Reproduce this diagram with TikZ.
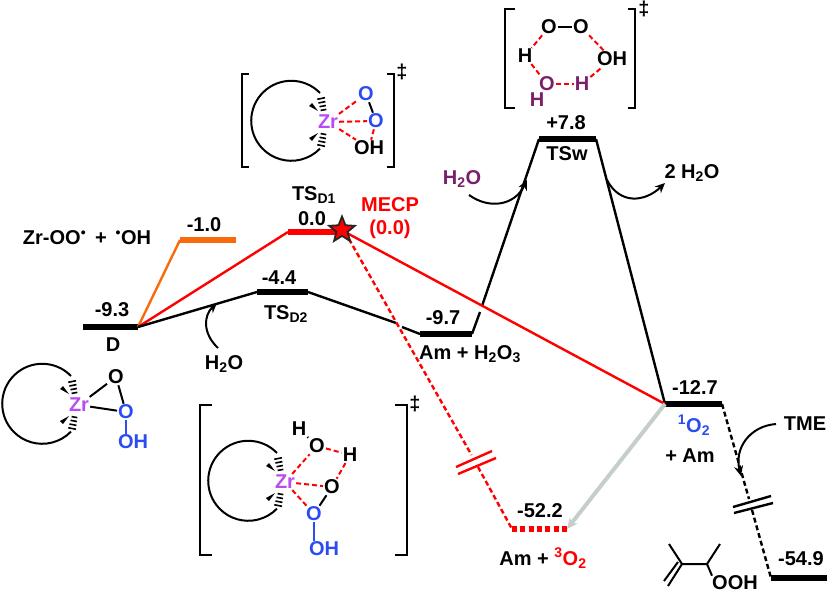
\documentclass[tikz,border=0pt]{standalone}
\usepackage{fontspec}
\setmainfont{Liberation Sans}
\usetikzlibrary{shapes.geometric,arrows.meta}

\definecolor{zrpurple}{HTML}{B84CF0}
\definecolor{oblue}{HTML}{2B4CF0}
\definecolor{wplum}{HTML}{7A1F6A}
\definecolor{orangeline}{HTML}{F96A0A}
\definecolor{grayline}{HTML}{C6CECC}

\tikzset{
  lab/.style={font=\bfseries\fontsize{20}{22}\selectfont, inner sep=0pt},
  atom/.style={font=\bfseries\fontsize{20}{22}\selectfont, inner sep=1pt},
  level/.style={line width=5.5pt},
  path/.style={line width=2.4pt},
  bond/.style={line width=2pt},
  hbond/.style={red, line width=2pt, dash pattern=on 5pt off 3pt},
  bracket/.style={line width=2pt},
  curved/.style={-{Stealth[length=10pt,width=9pt]}, line width=2pt},
  zrcore/.pic={
    \draw[line width=2pt] (-8,-29) arc[start angle=44, end angle=316, radius=40pt];
    \foreach \s in {1,-1} {
      \fill ({-19},{\s*(-16)}) -- ({-16},{\s*(-19)}) -- ({-10},{\s*(-11)}) -- cycle;
      \foreach \k in {0,...,3}
        \draw[line width=1.6pt] ({-10.7+1.1*\k},{\s*(-22.7+3.7*\k)}) -- ({-3+0.45*\k},{\s*(-24.3+3.9*\k)});
    }
  }
}

\begin{document}
\begin{tikzpicture}[x=1pt, y=-1pt, >=stealth]
  \useasboundingbox (0,0) rectangle (827,594);

  % levels
  \coordinate (dL) at (83,327);    \coordinate (dR) at (138,327);
  \coordinate (radL) at (180,240); \coordinate (radR) at (236,240);
  \coordinate (dOneL) at (288,232);\coordinate (dOneR) at (345,232);
  \coordinate (dTwoL) at (257,292);\coordinate (dTwoR) at (308,292);
  \coordinate (amL) at (420,334);  \coordinate (amR) at (472,334);
  \coordinate (wL) at (539,139);   \coordinate (wR) at (596,139);
  \coordinate (sgL) at (665,404);  \coordinate (sgR) at (722,404);
  \coordinate (trL) at (512,529);  \coordinate (trR) at (567,529);
  \coordinate (endL) at (771,578); \coordinate (endR) at (827,578);

  \draw[level] (dL) -- (dR);
  \draw[level, orangeline] (radL) -- (radR);
  \draw[level, red] (dOneL) -- (dOneR);
  \draw[level] (dTwoL) -- (dTwoR);
  \draw[level] (amL) -- (amR);
  \draw[level] (wL) -- (wR);
  \draw[level] (sgL) -- (sgR);
  \draw[red, line width=6pt, dash pattern=on 5pt off 3.3pt] (trL) -- (trR);
  \draw[level] (endL) -- (endR);

  % gaps and breaks
  \coordinate (gapA) at (396,323); \coordinate (gapB) at (402,327);
  \coordinate (gapC) at (480,312); \coordinate (gapD) at (482,306);
  \coordinate (cutA) at (471.5,455); \coordinate (cutB) at (478,467);
  \coordinate (cutC) at (749,499); \coordinate (cutD) at (752,510);

  % profile lines
  \draw[path, orangeline] (dR) -- (radL);
  \draw[path, red] (dR) -- (dOneL);
  \draw[path] (dR) -- (dTwoL);
  \draw[path] (dTwoR) -- (gapA);
  \draw[path] (gapB) -- (amL);
  \draw[path] (amR) -- (gapC);
  \draw[path] (gapD) -- (wL);
  \draw[path] (wR) -- (sgL);
  \draw[path, red] (dOneR) -- (sgL);
  \draw[path, red, dash pattern=on 5pt off 3pt] (dOneR) -- (cutA);
  \draw[path, red, dash pattern=on 5pt off 3pt] (cutB) -- (trL);
  \draw[path, dash pattern=on 5pt off 3pt] (sgR) -- (cutC);
  \draw[path, dash pattern=on 5pt off 3pt] (cutD) -- (endL);
  \draw[-{Stealth[length=11pt,width=10pt]}, grayline, line width=4pt] (sgL) -- (trR);

  \draw[path, red] (456,467) -- (492,451);
  \draw[path, red] (458,474) -- (496,458);
  \draw[path] (733,507) -- (771,496);
  \draw[path] (734,513) -- (773,503);

  \node[star, star points=5, star point ratio=2.3, minimum size=27pt, inner sep=0pt,
        draw=black!85, line width=1.8pt, fill=red] (mecp) at (342,230) {};

  % energies and names
  \node[lab] (eD) at (112,310) {-9.3};
  \node[lab] (nD) at (113,345) {D};
  \node[lab] (eRad) at (204,225) {-1.0};
  \node[lab] (nRad) at (87,238) {Zr-OO\textsuperscript{\textbullet}\, + \,\textsuperscript{\textbullet}OH};
  \node[lab] (nOne) at (314,195) {TS\textsubscript{D1}};
  \node[lab] (eOne) at (312,219) {0.0};
  \node[lab, red] (nMecp) at (390,205) {MECP};
  \node[lab, red] (eMecp) at (390,229) {(0.0)};
  \node[lab] (eTwo) at (279,278) {-4.4};
  \node[lab] (nTwo) at (286,314) {TS\textsubscript{D2}};
  \node[lab] (eAm) at (443,318) {-9.7};
  \node[lab] (nAm) at (470,354) {Am + H\textsubscript{2}O\textsubscript{3}};
  \node[lab] (eW) at (566,123) {+7.8};
  \node[lab] (nW) at (567,154) {TSw};
  \node[lab] (lossW) at (692,173) {2 H\textsubscript{2}O};
  \node[lab, wplum] (gainW) at (462,179) {H\textsubscript{2}O};
  \node[lab] (gainB) at (224,364) {H\textsubscript{2}O};
  \node[lab] (eSg) at (695,388) {-12.7};
  \node[lab, oblue] (nSg) at (694,425) {\textsuperscript{1}O\textsubscript{2}};
  \node[lab] (nSgAm) at (690,456) {+ Am};
  \node[lab] (tme) at (805,424) {TME};
  \node[lab] (eTr) at (540,511) {-52.2};
  \node[lab] (nTr) at (543,558) {Am + \textcolor{red}{\textsuperscript{3}O\textsubscript{2}}};
  \node[lab] (eEnd) at (801,559) {-54.9};

  % curved arrows
  \draw[curved] (469,195) .. controls (490,210) and (515,205) .. (527,180);
  \draw[curved] (607,180) .. controls (620,205) and (645,202) .. (665,183);
  \draw[curved] (218,348) .. controls (202,333) and (204,315) .. (217,303);
  \draw[curved] (776,424) .. controls (750,426) and (734,448) .. (741,476);

  % D
  \node[atom, zrpurple] (zrD) at (79,405) {Zr};
  \pic at (zrD) {zrcore};
  \node[atom] (oDa) at (116,377) {O};
  \node[atom, oblue] (oDb) at (126,412) {O};
  \node[atom, oblue] (ohD) at (133,442) {OH};
  \draw[bond] (zrD) -- (oDa);
  \draw[bond] (zrD) -- (oDb);
  \draw[bond] (oDa) -- (oDb);
  \draw[bond, oblue] (oDb) -- (oDb |- ohD.north);

  % TS D1
  \node[atom, zrpurple] (zrA) at (328,122) {Zr};
  \pic at (zrA) {zrcore};
  \node[atom, oblue] (oAa) at (366,94) {O};
  \node[atom, oblue] (oAb) at (376,121) {O};
  \node[atom] (ohA) at (369,148) {OH};
  \draw[hbond] (zrA) -- (oAa);
  \draw[hbond] (zrA) -- (oAb);
  \draw[hbond] (zrA) -- (ohA);
  \draw[bond] (oAa) -- (oAb);
  \draw[hbond] (oAb) -- (ohA);
  \draw[bracket] (249,74) -- (242,74) -- (242,167) -- (249,167);
  \draw[bracket] (387,74) -- (394,74) -- (394,167) -- (387,167);
  \node[lab] (dagA) at (402,72) {‡};

  % TS D2
  \node[atom, zrpurple] (zrB) at (285,482) {Zr};
  \pic at (zrB) {zrcore};
  \node[atom] (hBa) at (299,429) {H};
  \node[atom] (oBa) at (317,446) {O};
  \node[atom] (hBb) at (350,455) {H};
  \node[atom] (oBb) at (332,487) {O};
  \node[atom, oblue] (oBc) at (314,514) {O};
  \node[atom, oblue] (ohB) at (324,549) {OH};
  \draw[bond] (hBa) -- (oBa);
  \draw[hbond] (zrB) -- (oBa);
  \draw[hbond] (oBa) -- (hBb);
  \draw[hbond] (hBb) -- (oBb);
  \draw[hbond] (zrB) -- (oBb);
  \draw[hbond] (zrB) -- (oBc);
  \draw[bond] (oBb) -- (oBc);
  \draw[bond, oblue] (oBc) -- (oBc |- ohB.north);
  \draw[bracket] (212,405) -- (200,405) -- (200,555) -- (212,555);
  \draw[bracket] (395,405) -- (407,405) -- (407,555) -- (395,555);
  \node[lab] (dagB) at (415,404) {‡};

  % TSw
  \node[atom] (oWa) at (549,27) {O};
  \node[atom] (oWb) at (581,27) {O};
  \node[atom] (hWa) at (525,56) {H};
  \node[atom] (ohW) at (612,59) {OH};
  \node[atom, wplum] (oWc) at (547,84) {O};
  \node[atom, wplum] (hWb) at (582,84) {H};
  \node[atom, wplum] (hWc) at (537,100) {H};
  \draw[bond] (oWa) -- (oWb);
  \draw[hbond] (oWa) -- (hWa);
  \draw[hbond] (hWa) -- (oWc);
  \draw[hbond] (oWc) -- (hWb);
  \draw[hbond] (hWb) -- (ohW);
  \draw[hbond] (oWb) -- (ohW);
  \draw[bracket] (515,9) -- (505,9) -- (505,108) -- (515,108);
  \draw[bracket] (628,9) -- (635,9) -- (635,108) -- (628,108);
  \node[lab] (dagW) at (644,9) {‡};

  % product
  \node[lab] (ooh) at (735,583) {OOH};
  \coordinate (meA) at (669,544);
  \coordinate (cA) at (682,564);
  \coordinate (cB) at (707,564);
  \coordinate (meB) at (720,544);
  \coordinate (chA) at (668,586);
  \coordinate (chB) at (664,581);
  \coordinate (cC) at (678,562);
  \draw[bond] (meA) -- (cA) -- (cB) -- (meB);
  \draw[bond] (cB) -- (ooh.north west);
  \draw[bond] (cA) -- (chA);
  \draw[bond] (cC) -- (chB);
\end{tikzpicture}
\end{document}
